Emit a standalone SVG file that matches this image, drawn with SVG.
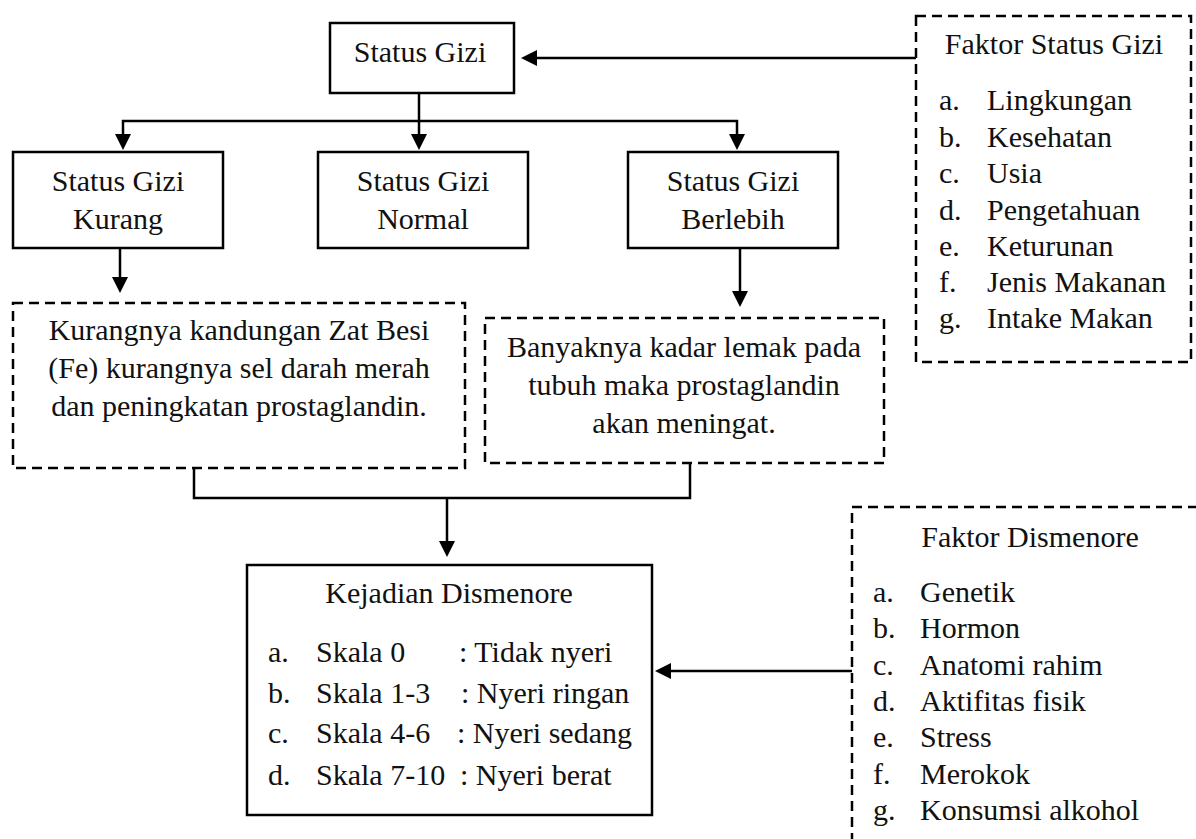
<svg xmlns="http://www.w3.org/2000/svg" width="1196" height="839" viewBox="0 0 1196 839">
<style>
  text { font-family: "Liberation Serif", "Times New Roman", serif; font-size: 30px; fill: #111; }
  .c { text-anchor: middle; }
  .box { fill: #fff; stroke: #000; stroke-width: 2.5; }
  .dash { fill: none; stroke: #000; stroke-width: 2.5; stroke-dasharray: 10 6; }
  .con { fill: none; stroke: #000; stroke-width: 2.5; stroke-linejoin: miter; }
</style>
<defs>
  <marker id="arr" viewBox="0 0 16 16" refX="2" refY="8" markerWidth="16" markerHeight="16" markerUnits="userSpaceOnUse" orient="auto">
    <path d="M0,0 L16,8 L0,16 z" fill="#000"/>
  </marker>
</defs>
<rect width="1196" height="839" fill="#fff"/>

<g id="connectors">
  <path class="con" d="M916,58 H535" marker-end="url(#arr)"/>
  <path class="con" d="M419,93 V136" marker-end="url(#arr)"/>
  <path class="con" d="M419,121 H123 V136" marker-end="url(#arr)"/>
  <path class="con" d="M419,121 H737 V136" marker-end="url(#arr)"/>
  <path class="con" d="M120,248 V279" marker-end="url(#arr)"/>
  <path class="con" d="M740,248 V293" marker-end="url(#arr)"/>
  <path class="con" d="M194,468 V498 H690 V463"/>
  <path class="con" d="M447,498 V543" marker-end="url(#arr)"/>
  <path class="con" d="M852,671 H669" marker-end="url(#arr)"/>
</g>

<g id="status-gizi">
  <rect class="box" x="330" y="23" width="184" height="70"/>
  <text class="c" x="420" y="62">Status Gizi</text>
</g>

<g id="gizi-kurang">
  <rect class="box" x="13" y="152" width="210" height="96"/>
  <text class="c" x="118" y="191">Status Gizi</text>
  <text class="c" x="118" y="229">Kurang</text>
</g>

<g id="gizi-normal">
  <rect class="box" x="318" y="152" width="210" height="96"/>
  <text class="c" x="423" y="191">Status Gizi</text>
  <text class="c" x="423" y="229">Normal</text>
</g>

<g id="gizi-berlebih">
  <rect class="box" x="628" y="152" width="210" height="96"/>
  <text class="c" x="733" y="191">Status Gizi</text>
  <text class="c" x="733" y="229">Berlebih</text>
</g>

<g id="faktor-status-gizi">
  <rect class="dash" x="916" y="16" width="275" height="346"/>
  <text class="c" x="1054" y="54">Faktor Status Gizi</text>
  <text x="939" y="110">a.</text><text x="987" y="110">Lingkungan</text>
  <text x="939" y="146.5">b.</text><text x="987" y="146.5">Kesehatan</text>
  <text x="939" y="183">c.</text><text x="987" y="183">Usia</text>
  <text x="939" y="219.5">d.</text><text x="987" y="219.5">Pengetahuan</text>
  <text x="939" y="255.5">e.</text><text x="987" y="255.5">Keturunan</text>
  <text x="939" y="292">f.</text><text x="987" y="292">Jenis Makanan</text>
  <text x="939" y="328">g.</text><text x="987" y="328">Intake Makan</text>
</g>

<g id="efek-kurang">
  <rect class="dash" x="13" y="303" width="452" height="165"/>
  <text class="c" x="239" y="340">Kurangnya kandungan Zat Besi</text>
  <text class="c" x="239" y="378">(Fe) kurangnya sel darah merah</text>
  <text class="c" x="239" y="416">dan peningkatan prostaglandin.</text>
</g>

<g id="efek-berlebih">
  <rect class="dash" x="485" y="318" width="399" height="145"/>
  <text class="c" x="684" y="357">Banyaknya kadar lemak pada</text>
  <text class="c" x="684" y="395">tubuh maka prostaglandin</text>
  <text class="c" x="684" y="433">akan meningat.</text>
</g>

<g id="kejadian-dismenore">
  <rect class="box" x="247" y="565" width="405" height="250"/>
  <text class="c" x="449" y="603">Kejadian Dismenore</text>
  <text x="268" y="662">a.</text><text x="316" y="662">Skala 0</text><text x="459" y="662">: Tidak nyeri</text>
  <text x="268" y="703">b.</text><text x="316" y="703">Skala 1-3</text><text x="461" y="703">: Nyeri ringan</text>
  <text x="268" y="743">c.</text><text x="316" y="743">Skala 4-6</text><text x="457" y="743">: Nyeri sedang</text>
  <text x="268" y="785">d.</text><text x="316" y="785">Skala 7-10</text><text x="460" y="785">: Nyeri berat</text>
</g>

<g id="faktor-dismenore">
  <rect class="dash" x="852" y="507" width="400" height="400"/>
  <text class="c" x="1030" y="547">Faktor Dismenore</text>
  <text x="873" y="602">a.</text><text x="920" y="602">Genetik</text>
  <text x="873" y="638">b.</text><text x="920" y="638">Hormon</text>
  <text x="873" y="675">c.</text><text x="920" y="675">Anatomi rahim</text>
  <text x="873" y="711">d.</text><text x="920" y="711">Aktifitas fisik</text>
  <text x="873" y="747">e.</text><text x="920" y="747">Stress</text>
  <text x="873" y="784">f.</text><text x="920" y="784">Merokok</text>
  <text x="873" y="820">g.</text><text x="920" y="820">Konsumsi alkohol</text>
</g>
</svg>
